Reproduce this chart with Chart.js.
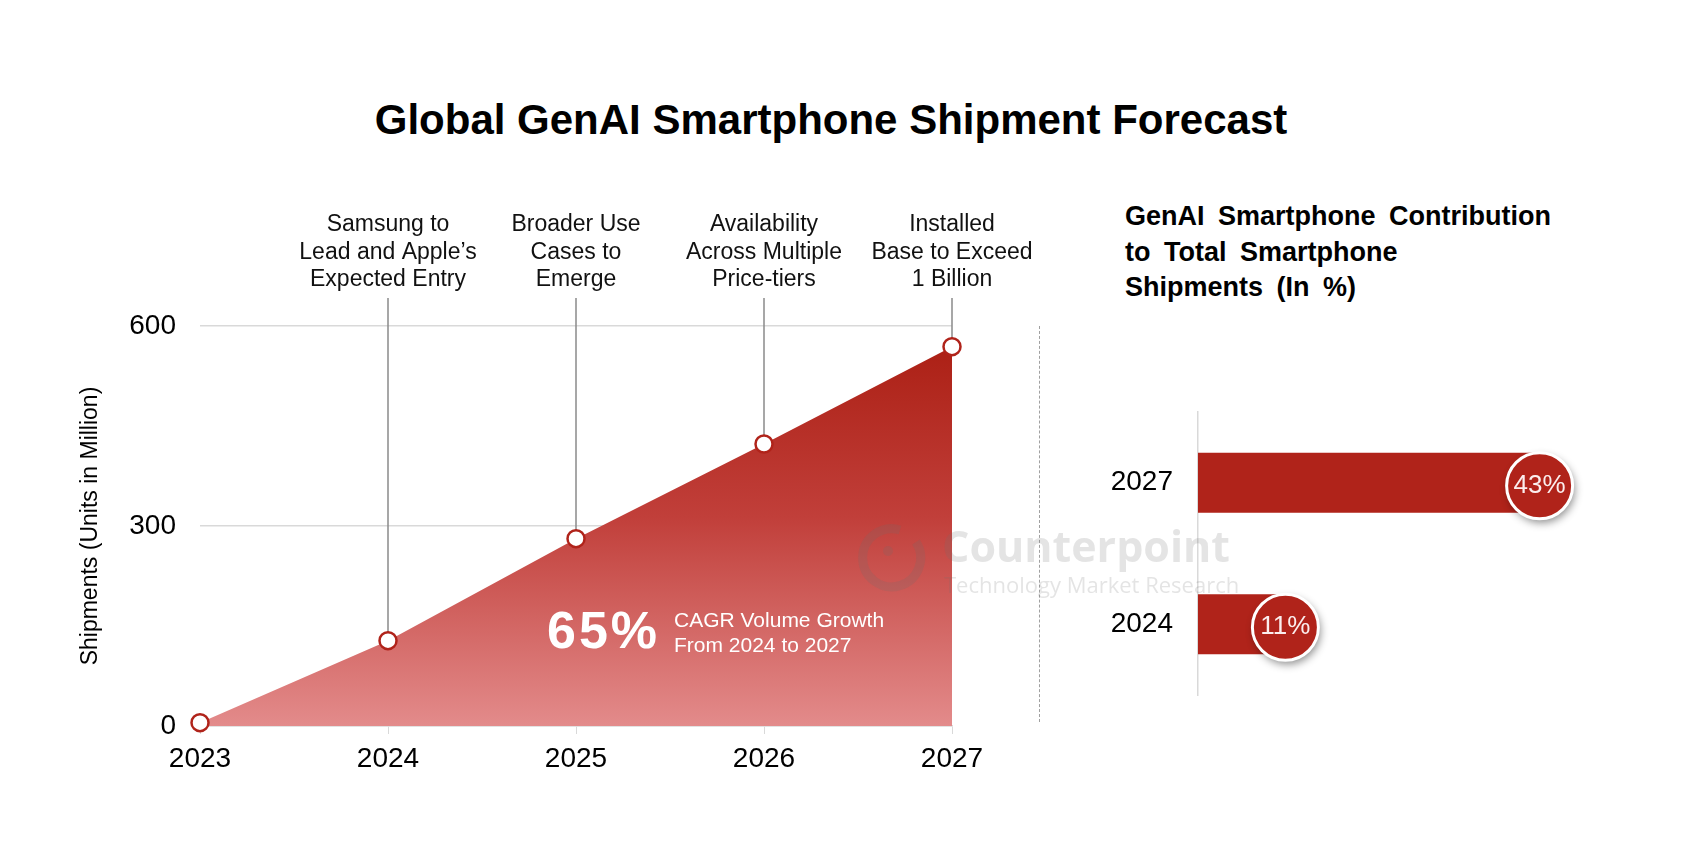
<!DOCTYPE html>
<html>
<head>
<meta charset="utf-8">
<script src="https://cdn.jsdelivr.net/npm/chart.js@4.4.1/dist/chart.umd.min.js"></script>
<style>
html, body { margin: 0; padding: 0; background: #fff; }
body { width: 1702px; height: 846px; position: relative; overflow: hidden; font-family: "Liberation Sans", Arial, sans-serif; }
#title { position: absolute; left: 0; width: 1662px; top: 97px; text-align: center; font-weight: bold; font-size: 42px; line-height: 46px; color: #000; }
#leftWrap { position: absolute; left: 0; top: 0; width: 1060px; height: 846px; }
#rightWrap { position: absolute; left: 1060px; top: 0; width: 642px; height: 846px; }
#divider { position: absolute; left: 1039px; top: 326px; height: 396px; border-left: 1px dashed #a0a0a0; }
#subTitle { position: absolute; left: 1125px; top: 199px; font-weight: bold; font-size: 27px; line-height: 35.5px; color: #000; word-spacing: 6px; }
#watermark { position: absolute; left: 850px; top: 515px; width: 420px; height: 90px; pointer-events: none; }
#watermark .big { position: absolute; left: 92px; top: 3px; font-family: "Open Sans", "Noto Sans", sans-serif; font-size: 43px; line-height: 56px; font-weight: bold; color: rgba(110,110,110,0.19); }
#watermark .small { position: absolute; left: 94px; top: 55px; font-family: "Open Sans", "Noto Sans", sans-serif; font-size: 22px; line-height: 28px; color: rgba(110,110,110,0.19); }
#watermark svg { position: absolute; left: 0; top: 0; }
</style>
</head>
<body>
<div id="title">Global GenAI Smartphone Shipment Forecast</div>
<div id="leftWrap"><canvas id="shipChart"></canvas></div>
<div id="divider"></div>
<div id="subTitle">GenAI Smartphone Contribution<br>to Total Smartphone<br>Shipments (In %)</div>
<div id="rightWrap"><canvas id="shareChart"></canvas></div>
<div id="watermark">
  <svg width="90" height="90" viewBox="0 0 90 90">
    <path d="M 50 15 A 29 29 0 1 0 66 27" fill="none" stroke="rgba(110,110,110,0.2)" stroke-width="9"/>
    <circle cx="38" cy="36" r="5" fill="rgba(110,110,110,0.2)"/>
  </svg>
  <div class="big">Counterpoint</div>
  <div class="small">Technology Market Research</div>
</div>
<script>
const years = ['2023', '2024', '2025', '2026', '2027'];
const shipments = [5, 128, 281, 423, 569];
const yTicks = [0, 300, 600];
const milestones = [
    null,
    ['Samsung to', 'Lead and Apple\u2019s', 'Expected Entry'],
    ['Broader Use', 'Cases to', 'Emerge'],
    ['Availability', 'Across Multiple', 'Price-tiers'],
    ['Installed', 'Base to Exceed', '1 Billion']
];
const cagrValue = '65%';
const cagrText = ['CAGR Volume Growth', 'From 2024 to 2027'];

const shareYears = ['2027', '2024'];
const shareValues = [43, 11];

const FONT = '"Liberation Sans", Arial, sans-serif';
const RED = '#b0231a';

// vertical guide lines + milestone captions + CAGR callout
const milestonePlugin = {
    id: 'milestones',
    beforeDatasetsDraw(chart) {
        const {ctx, scales: {x, y}} = chart;
        const top = y.getPixelForValue(600) - 28;
        ctx.save();
        ctx.strokeStyle = '#8a8a8a';
        ctx.lineWidth = 1.5;
        milestones.forEach((m, i) => {
            if (!m) return;
            const px = x.getPixelForValue(i);
            ctx.beginPath();
            ctx.moveTo(px, top);
            ctx.lineTo(px, y.getPixelForValue(shipments[i]));
            ctx.stroke();
        });
        ctx.restore();
    },
    afterDraw(chart) {
        const {ctx, scales: {x, y}} = chart;
        const top = y.getPixelForValue(600) - 28;
        ctx.save();
        ctx.fillStyle = '#111';
        ctx.font = '23px ' + FONT;
        ctx.textAlign = 'center';
        ctx.textBaseline = 'middle';
        milestones.forEach((m, i) => {
            if (!m) return;
            const px = x.getPixelForValue(i);
            m.forEach((line, j) => {
                ctx.fillText(line, px, top - 18 - (m.length - 1 - j) * 27.5);
            });
        });

        // CAGR callout
        const cx = x.getPixelForValue(2) - 29;
        ctx.fillStyle = '#fff';
        ctx.textAlign = 'left';
        ctx.font = 'bold 52px ' + FONT;
        ctx.letterSpacing = '3px';
        ctx.fillText(cagrValue, cx, y.getPixelForValue(138));
        ctx.letterSpacing = '0px';
        ctx.font = '21px ' + FONT;
        ctx.fillText(cagrText[0], cx + 127, y.getPixelForValue(157));
        ctx.fillText(cagrText[1], cx + 127, y.getPixelForValue(120));
        ctx.restore();
    }
};

new Chart(document.getElementById('shipChart'), {
    type: 'line',
    data: {
        labels: years,
        datasets: [{
            data: shipments,
            fill: 'origin',
            clip: false,
            borderWidth: 0,
            borderColor: 'rgba(0,0,0,0)',
            tension: 0,
            backgroundColor: (c) => {
                const {chart} = c;
                const area = chart.chartArea;
                if (!area) return '#c0392b';
                const top = chart.scales.y.getPixelForValue(Math.max(...shipments));
                const g = chart.ctx.createLinearGradient(0, top, 0, area.bottom);
                g.addColorStop(0, '#ac2015');
                g.addColorStop(0.45, '#c13f3a');
                g.addColorStop(1, '#e38b8b');
                return g;
            },
            pointRadius: 8.5,
            pointBackgroundColor: '#fff',
            pointBorderColor: RED,
            pointBorderWidth: 2.5
        }]
    },
    options: {
        responsive: true,
        maintainAspectRatio: false,
        animation: false,
        layout: { padding: { top: 326, right: 108, left: 0, bottom: 0 } },
        plugins: { legend: { display: false }, tooltip: { enabled: false } },
        scales: {
            x: {
                offset: false,
                grid: { drawOnChartArea: false, color: '#d9d9d9', tickLength: 8 },
                border: { color: '#d9d9d9', width: 1.5 },
                ticks: { color: '#000', font: { size: 28, family: FONT }, padding: 8, maxRotation: 0 },
                afterFit: s => { s.height = 120; }
            },
            y: {
                min: 0,
                max: 600,
                afterBuildTicks: s => { s.ticks = yTicks.map(v => ({ value: v })); },
                grid: { color: '#d9d9d9', lineWidth: 1.5, drawTicks: false },
                border: { display: false },
                ticks: { color: '#000', font: { size: 28, family: FONT }, padding: 24 },
                title: {
                    display: true,
                    text: 'Shipments (Units in Million)',
                    color: '#000',
                    font: { size: 23, family: FONT },
                    padding: { top: 77 }
                },
                afterFit: s => { s.width = 200; }
            }
        }
    },
    plugins: [milestonePlugin]
});

// round value badges at bar ends
const badgePlugin = {
    id: 'badges',
    afterDatasetsDraw(chart) {
        const {ctx} = chart;
        const meta = chart.getDatasetMeta(0);
        ctx.save();
        meta.data.forEach((bar, i) => {
            const cy = bar.y + 3;
            ctx.save();
            ctx.shadowColor = 'rgba(0,0,0,0.45)';
            ctx.shadowBlur = 9;
            ctx.shadowOffsetX = 2;
            ctx.shadowOffsetY = 4;
            ctx.beginPath();
            ctx.arc(bar.x, cy, 33, 0, Math.PI * 2);
            ctx.fillStyle = RED;
            ctx.fill();
            ctx.restore();
            ctx.beginPath();
            ctx.arc(bar.x, cy, 33, 0, Math.PI * 2);
            ctx.strokeStyle = '#fff';
            ctx.lineWidth = 3;
            ctx.stroke();
            ctx.fillStyle = '#fbeeee';
            ctx.font = '26px ' + FONT;
            ctx.textAlign = 'center';
            ctx.textBaseline = 'middle';
            ctx.fillText(shareValues[i] + '%', bar.x, cy);
        });
        ctx.restore();
    }
};

new Chart(document.getElementById('shareChart'), {
    type: 'bar',
    data: {
        labels: shareYears,
        datasets: [{
            data: shareValues,
            backgroundColor: RED,
            barPercentage: 0.85,
            categoryPercentage: 0.5
        }]
    },
    options: {
        indexAxis: 'y',
        responsive: true,
        maintainAspectRatio: false,
        animation: false,
        layout: { padding: { top: 412, right: 75, left: 0, bottom: 151 } },
        plugins: { legend: { display: false }, tooltip: { enabled: false } },
        scales: {
            x: { display: false, min: 0, max: 54 },
            y: {
                grid: { display: false },
                border: { color: '#d9d9d9', width: 1.5 },
                ticks: { color: '#000', font: { size: 28, family: FONT }, padding: 17 },
                afterFit: s => { s.width = 138; }
            }
        }
    },
    plugins: [badgePlugin]
});
</script>
</body>
</html>
